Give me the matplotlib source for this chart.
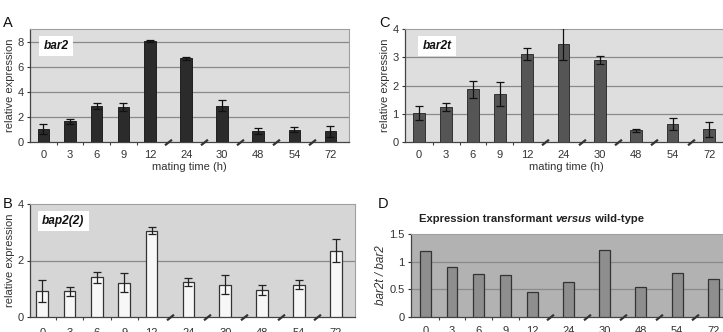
import matplotlib
matplotlib.use("Agg")
import matplotlib.pyplot as plt
from matplotlib.transforms import blended_transform_factory
from matplotlib.ticker import FuncFormatter

plt.rcParams['font.family'] = ['Liberation Sans', 'DejaVu Sans']

# ---------------- data ----------------
times = ['0', '3', '6', '9', '12', '24', '30', '48', '54', '72']
break_before = [False, False, False, False, False, True, True, True, True, True]

bar2 = [1.07, 1.65, 2.88, 2.80, 8.03, 6.67, 2.88, 0.88, 0.99, 0.85]
bar2_err = [0.40, 0.20, 0.25, 0.32, 0.10, 0.13, 0.45, 0.24, 0.21, 0.43]

bar2t = [1.03, 1.24, 1.86, 1.70, 3.10, 3.47, 2.90, 0.41, 0.64, 0.45]
bar2t_err = [0.24, 0.14, 0.30, 0.42, 0.21, 0.55, 0.14, 0.04, 0.21, 0.26]

bap2 = [0.93, 0.91, 1.40, 1.22, 3.05, 1.24, 1.15, 0.96, 1.15, 2.35]
bap2_err = [0.39, 0.15, 0.18, 0.32, 0.12, 0.14, 0.32, 0.17, 0.17, 0.42]

ratio = [1.20, 0.90, 0.77, 0.76, 0.46, 0.63, 1.21, 0.55, 0.79, 0.68]

# ---------------- layout ----------------
W, H = 723, 332
fig = plt.figure(figsize=(W / 100, H / 100), dpi=100)

pos = []
for i, b in enumerate(break_before):
    if i == 0:
        pos.append(0.0)
    else:
        pos.append(pos[-1] + (1.35 if b else 1.0))
mids_tick = [(pos[i - 1] + pos[i]) / 2 for i in range(1, len(pos)) if not break_before[i]]
mids_break = [(pos[i - 1] + pos[i]) / 2 for i in range(1, len(pos)) if break_before[i]]


def make_axes(left, top, bottom, width):
    return fig.add_axes([left / W, 1 - bottom / H, width / W, (bottom - top) / H])


TXT = '#333333'
FS = 8


def style(ax, bg, ylim, yticks, xlim, grid_ticks, show_xlabel=True, xpad=5.8):
    ax.set_facecolor(bg)
    ax.set_xlim(*xlim)
    ax.set_ylim(*ylim)
    ax.set_yticks(yticks)
    ax.yaxis.set_major_formatter(FuncFormatter(lambda v, p: '%g' % v))
    for g in grid_ticks:
        ax.axhline(g, color='#8a8a8a', lw=0.9, zorder=1)
    ax.set_xticks(pos)
    ax.set_xticklabels(times)
    ax.set_xticks(mids_tick, minor=True)
    ax.tick_params(axis='x', which='major', length=0, pad=xpad, labelsize=FS, colors=TXT)
    ax.tick_params(axis='x', which='minor', length=2.5, width=0.8, color='#444444', direction='out')
    ax.tick_params(axis='y', length=2.5, width=0.8, pad=2.0, labelsize=FS, colors=TXT, direction='out')
    for s in ['top', 'right']:
        ax.spines[s].set_color('#a0a0a0')
        ax.spines[s].set_linewidth(0.8)
    for s in ['left', 'bottom']:
        ax.spines[s].set_color('#444444')
        ax.spines[s].set_linewidth(0.9)
    tr = blended_transform_factory(ax.transData, ax.transAxes)
    ax.plot(mids_break, [0] * len(mids_break), ls='none', marker=[(-1, -0.8), (1, 0.8)],
            ms=5, mew=1.6, color='#333333', transform=tr, clip_on=False, zorder=5)
    if show_xlabel:
        ax.set_xlabel('mating time (h)', fontsize=FS, color=TXT, labelpad=1.5)


def gene_box(ax, x, label):
    ax.text(x, 0.85, label, transform=ax.transAxes, ha='center', va='center',
            fontsize=8.6, fontweight='bold', fontstyle='italic', color='#111111', zorder=6,
            bbox=dict(boxstyle='square,pad=0.35', fc='white', ec='none'))


# Panel A
axA = make_axes(30, 29, 142, 319)
style(axA, '#dddddd', (0, 9), [0, 2, 4, 6, 8], (-0.5, 11.45), [2, 4, 6, 8])
axA.bar(pos, bar2, width=0.43, color='#2b2b2b', edgecolor='#111111', lw=0.6, zorder=3)
axA.errorbar(pos, bar2, yerr=bar2_err, fmt='none', ecolor='#111111', elinewidth=0.9,
             capsize=2.6, capthick=0.9, zorder=4)
axA.set_ylabel('relative expression', fontsize=FS, color=TXT, labelpad=1.5)
gene_box(axA, 0.082, 'bar2')

# Panel C
axC = make_axes(405, 29, 142, 323)
style(axC, '#dedede', (0, 4), [0, 1, 2, 3, 4], (-0.52, 11.45), [1, 2, 3])
axC.bar(pos, bar2t, width=0.43, color='#555555', edgecolor='#222222', lw=0.6, zorder=3)
axC.errorbar(pos, bar2t, yerr=bar2t_err, fmt='none', ecolor='#111111', elinewidth=0.9,
             capsize=2.6, capthick=0.9, zorder=4)
axC.set_ylabel('relative expression', fontsize=FS, color=TXT, labelpad=1.5)
gene_box(axC, 0.099, 'bar2t')

# Panel B
axB = make_axes(30, 204, 317, 325)
style(axB, '#d6d6d6', (0, 4), [0, 2, 4], (-0.45, 11.45), [2], show_xlabel=False, xpad=8.2)
axB.bar(pos, bap2, width=0.43, color='#f7f7f7', edgecolor='#333333', lw=0.9, zorder=3)
axB.errorbar(pos, bap2, yerr=bap2_err, fmt='none', ecolor='#222222', elinewidth=0.9,
             capsize=2.6, capthick=0.9, zorder=4)
axB.set_ylabel('relative expression', fontsize=FS, color=TXT, labelpad=1.5)
gene_box(axB, 0.103, 'bap2(2)')

# Panel D
axD = make_axes(411, 234, 317, 321)
style(axD, '#b2b2b2', (0, 1.5), [0, 0.5, 1, 1.5], (-0.53, 11.45), [0.5, 1], show_xlabel=False, xpad=6.5)
axD.bar(pos, ratio, width=0.41, color='#8e8e8e', edgecolor='#333333', lw=0.9, zorder=3)
axD.set_ylabel('bar2t / bar2', fontsize=8.4, fontstyle='italic', color=TXT, labelpad=1.5)

# Title of D (mixed styles)
TFS = 8.1
t1 = fig.text(419 / W, 1 - 219 / H, 'Expression transformant ', fontsize=TFS,
              fontweight='bold', color='#222222', ha='left', va='center')
a2 = axD.annotate('versus', xy=(1, 0), xycoords=t1, va='bottom', ha='left', fontsize=TFS,
                  fontweight='bold', fontstyle='italic', color='#222222', annotation_clip=False)
a3 = axD.annotate(' wild-type', xy=(1, 0), xycoords=a2, va='bottom', ha='left', fontsize=TFS,
                  fontweight='bold', color='#222222', annotation_clip=False)

# Panel letters
for letter, x, y in [('A', 8, 23), ('C', 385, 23), ('B', 8, 204), ('D', 383, 204)]:
    fig.text(x / W, 1 - y / H, letter, fontsize=10.5, color='#111111', ha='center', va='center')

fig.savefig('out.png', dpi=100)
